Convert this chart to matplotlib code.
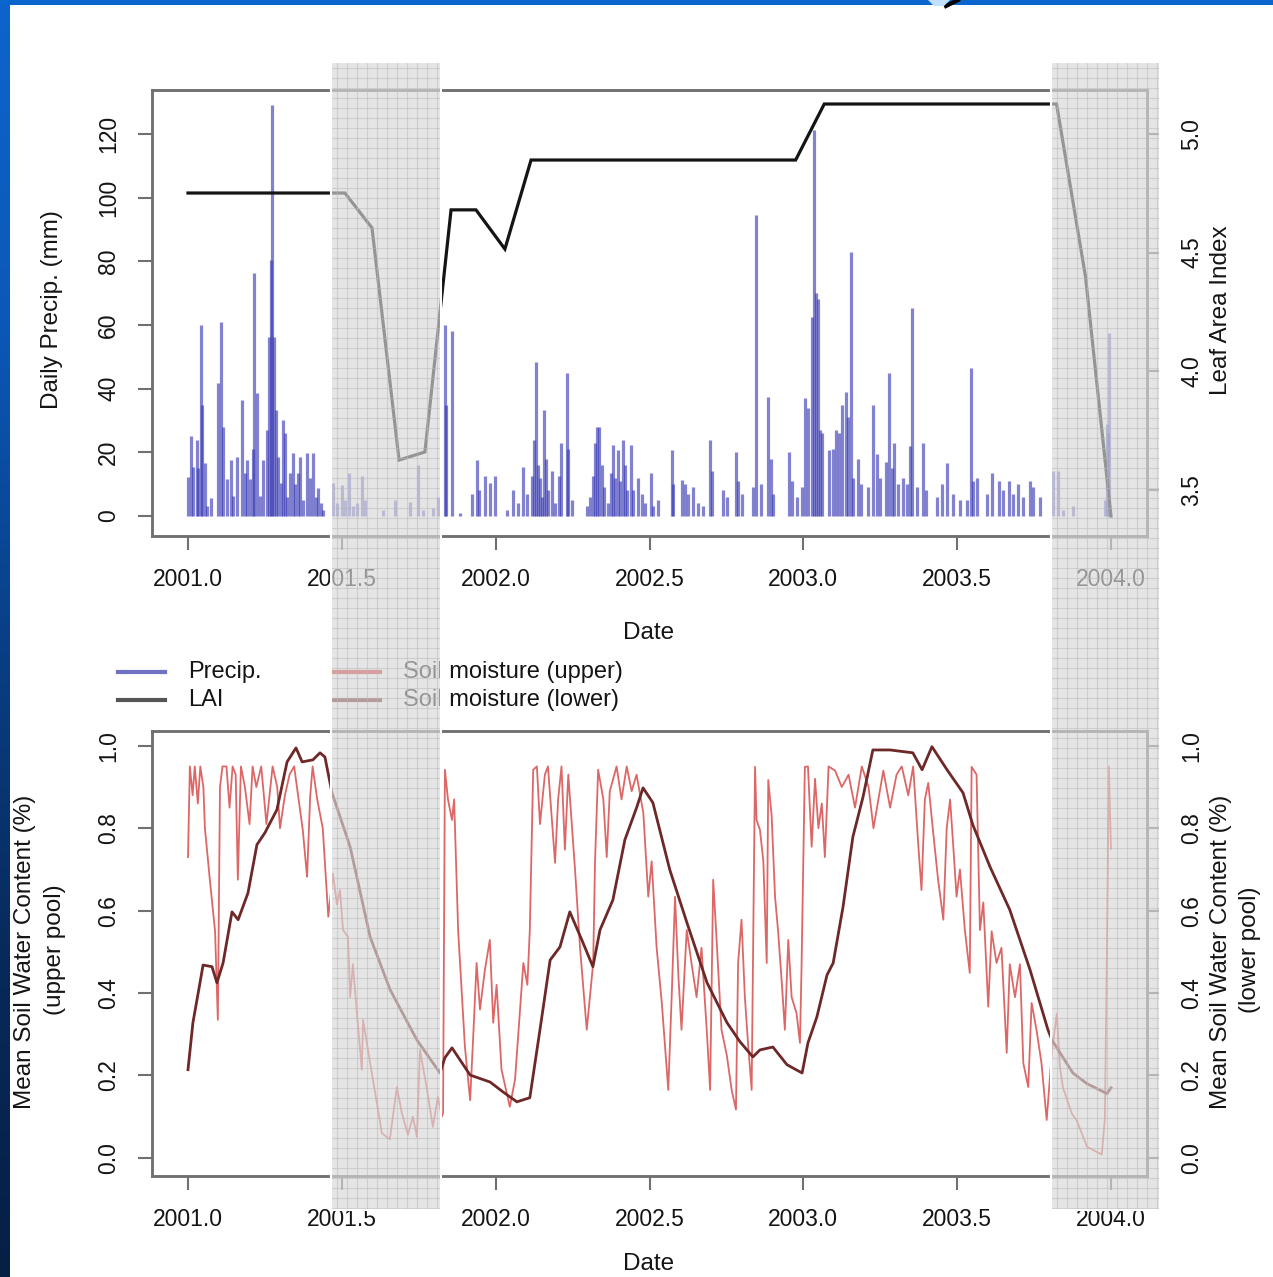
import numpy as np
import matplotlib
matplotlib.use("Agg")
import matplotlib.pyplot as plt
from matplotlib.patches import Rectangle, Polygon
from matplotlib.lines import Line2D
from matplotlib.colors import LinearSegmentedColormap

plt.rcParams['font.family'] = ['Liberation Sans', 'DejaVu Sans']

# ---------------- data ----------------
precip_year = [2001.000, 2001.009, 2001.016, 2001.028, 2001.034, 2001.042, 2001.047, 2001.055, 2001.063, 2001.075,
               2001.099, 2001.106, 2001.115, 2001.126, 2001.140, 2001.147, 2001.160, 2001.175, 2001.185, 2001.193,
               2001.202, 2001.212, 2001.216, 2001.223, 2001.234, 2001.243, 2001.256, 2001.263, 2001.269, 2001.274,
               2001.280, 2001.286, 2001.294, 2001.301, 2001.308, 2001.315, 2001.323, 2001.332, 2001.340, 2001.348,
               2001.359, 2001.364, 2001.373, 2001.388, 2001.397, 2001.407, 2001.416, 2001.424, 2001.431, 2001.440,
               2001.472, 2001.483, 2001.500, 2001.510, 2001.524, 2001.537, 2001.548, 2001.567, 2001.575, 2001.635,
               2001.673, 2001.722, 2001.749, 2001.765, 2001.796, 2001.814,
               2001.835, 2001.840, 2001.857, 2001.884, 2001.922, 2001.940, 2001.947, 2001.965, 2001.982, 2001.998,
               2002.036, 2002.057, 2002.074, 2002.090, 2002.103, 2002.117, 2002.126, 2002.131, 2002.139, 2002.144,
               2002.150, 2002.156, 2002.164, 2002.171, 2002.182, 2002.193, 2002.206, 2002.211, 2002.231, 2002.236,
               2002.247, 2002.296, 2002.307, 2002.315, 2002.323, 2002.330, 2002.337, 2002.345, 2002.352, 2002.366,
               2002.374, 2002.380, 2002.388, 2002.397, 2002.404, 2002.413, 2002.420, 2002.426, 2002.439, 2002.447,
               2002.464, 2002.475, 2002.485, 2002.505, 2002.512, 2002.529, 2002.572, 2002.577, 2002.605, 2002.615,
               2002.626, 2002.642, 2002.659, 2002.675, 2002.697, 2002.702, 2002.740, 2002.751, 2002.780, 2002.789,
               2002.800, 2002.837, 2002.846, 2002.862, 2002.886, 2002.895, 2002.902, 2002.954, 2002.962, 2002.978,
               2002.995, 2003.005, 2003.016, 2003.027, 2003.035, 2003.041, 2003.049, 2003.054, 2003.060, 2003.082,
               2003.095, 2003.106, 2003.117, 2003.125, 2003.139, 2003.146, 2003.155, 2003.162, 2003.179, 2003.189,
               2003.211, 2003.227, 2003.238, 2003.249, 2003.268, 2003.278, 2003.287, 2003.296, 2003.309, 2003.323,
               2003.336, 2003.347, 2003.354, 2003.368, 2003.388, 2003.400, 2003.434, 2003.450, 2003.466, 2003.488,
               2003.509, 2003.531, 2003.545, 2003.553, 2003.563, 2003.596, 2003.612, 2003.637, 2003.650, 2003.669,
               2003.682, 2003.699, 2003.715, 2003.737, 2003.748, 2003.769, 2003.812, 2003.829, 2003.845, 2003.877,
               2003.980, 2003.986, 2003.991, 2003.995]
precip_mm = [12.3, 25, 15.5, 24, 15, 60, 35, 16.6, 3, 5.6,
             41.7, 61, 28, 11.7, 17.6, 6.4, 18.6, 36.4, 13.6, 17.6,
             11.6, 21, 76.2, 38.6, 6.4, 17.6, 27, 56.3, 80.4, 129.1,
             56.3, 33.3, 18.6, 10.5, 30.2, 26, 6, 13.6, 19.7, 10,
             13.6, 18.6, 5, 19.7, 12, 19.7, 6, 8.7, 4, 2,
             10.4, 4, 9.7, 5, 13.4, 3, 4, 12.4, 5, 2,
             5, 4.5, 16, 2, 2.5, 6,
             60, 35, 58, 1, 7, 17.6, 8, 12.4, 10.4, 12.4,
             2, 8.2, 4, 15.5, 7, 12.4, 23.9, 48.5, 16, 12,
             6, 33.3, 18, 8, 14, 4, 12.4, 22.8, 44.8, 21,
             5, 3, 6, 12.4, 22.8, 28, 28, 16, 9, 4,
             13.4, 22.3, 12, 20.7, 11, 23.9, 16, 8, 22.3, 8,
             11.8, 7, 4, 13.4, 3, 5, 20.7, 10, 11.3, 10,
             7, 9, 4, 3, 23.9, 14, 8, 6, 20.2, 11,
             7, 9, 94.6, 10, 37.5, 18, 7, 20.2, 11, 6,
             9, 37, 34, 62.6, 121.3, 70, 68, 27, 26, 20.7,
             21, 27, 26, 35, 39, 31, 83, 12, 18, 10,
             9, 35, 19.5, 12, 17, 44.8, 15, 22.8, 10, 12,
             10, 22, 65.2, 9, 22.8, 8, 6, 10, 16.6, 7,
             5, 5, 46.4, 11, 12, 7, 13.4, 11, 8, 11,
             7, 10, 6, 11, 9, 6, 14, 14, 2, 3,
             5, 29, 26, 57.4]

lai_year = [2001.000, 2001.510, 2001.598, 2001.686, 2001.770, 2001.855, 2001.936, 2002.030, 2002.115,
            2002.975, 2003.068, 2003.823, 2003.917, 2004.000]
lai_value = [4.751, 4.751, 4.604, 3.626, 3.660, 4.680, 4.680, 4.515, 4.890,
             4.890, 5.126, 5.126, 4.400, 3.390]

upper_year = [2001.000, 2001.006, 2001.015, 2001.022, 2001.032, 2001.040, 2001.050, 2001.055, 2001.071, 2001.088,
              2001.097, 2001.104, 2001.112, 2001.125, 2001.135, 2001.145, 2001.155, 2001.162, 2001.172, 2001.185,
              2001.200, 2001.210, 2001.222, 2001.238, 2001.255, 2001.275, 2001.290, 2001.299, 2001.315, 2001.330,
              2001.345, 2001.373, 2001.387, 2001.397, 2001.405, 2001.420, 2001.438, 2001.452, 2001.456, 2001.471,
              2001.484, 2001.494, 2001.504, 2001.520, 2001.527, 2001.536, 2001.549, 2001.565, 2001.569, 2001.592,
              2001.614, 2001.630, 2001.656, 2001.679, 2001.695, 2001.715, 2001.731, 2001.744, 2001.754, 2001.777,
              2001.796, 2001.812, 2001.825, 2001.829, 2001.835, 2001.845, 2001.858, 2001.865, 2001.878, 2001.900,
              2001.917, 2001.927, 2001.938, 2001.949, 2001.965, 2001.981, 2001.992, 2002.003, 2002.019, 2002.046,
              2002.063, 2002.090, 2002.103, 2002.111, 2002.122, 2002.134, 2002.144, 2002.160, 2002.170, 2002.193,
              2002.203, 2002.214, 2002.225, 2002.236, 2002.258, 2002.274, 2002.296, 2002.317, 2002.323, 2002.333,
              2002.350, 2002.361, 2002.371, 2002.393, 2002.409, 2002.426, 2002.442, 2002.458, 2002.480, 2002.496,
              2002.507, 2002.523, 2002.540, 2002.561, 2002.572, 2002.583, 2002.594, 2002.604, 2002.621, 2002.637,
              2002.653, 2002.669, 2002.686, 2002.697, 2002.707, 2002.718, 2002.734, 2002.751, 2002.767, 2002.781,
              2002.788, 2002.799, 2002.810, 2002.821, 2002.832, 2002.843, 2002.848, 2002.859, 2002.870, 2002.881,
              2002.886, 2002.897, 2002.908, 2002.918, 2002.930, 2002.940, 2002.951, 2002.962, 2002.978, 2002.989,
              2002.994, 2003.005, 2003.015, 2003.027, 2003.038, 2003.049, 2003.060, 2003.070, 2003.082, 2003.103,
              2003.125, 2003.147, 2003.168, 2003.190, 2003.212, 2003.228, 2003.244, 2003.260, 2003.282, 2003.303,
              2003.320, 2003.341, 2003.357, 2003.374, 2003.384, 2003.395, 2003.406, 2003.422, 2003.438, 2003.455,
              2003.466, 2003.477, 2003.487, 2003.498, 2003.509, 2003.525, 2003.541, 2003.547, 2003.563, 2003.574,
              2003.585, 2003.601, 2003.612, 2003.628, 2003.644, 2003.661, 2003.671, 2003.688, 2003.704, 2003.715,
              2003.731, 2003.742, 2003.758, 2003.774, 2003.791, 2003.808, 2003.824, 2003.834, 2003.844, 2003.873,
              2003.889, 2003.922, 2003.970, 2003.980, 2003.987, 2003.993, 2004.000]
upper_value = [0.73, 0.95, 0.88, 0.95, 0.86, 0.95, 0.90, 0.80, 0.675, 0.55,
               0.335, 0.90, 0.95, 0.95, 0.85, 0.95, 0.93, 0.675, 0.95, 0.90,
               0.81, 0.95, 0.90, 0.95, 0.81, 0.95, 0.90, 0.80, 0.88, 0.93,
               0.95, 0.796, 0.682, 0.876, 0.95, 0.87, 0.80, 0.634, 0.585, 0.69,
               0.615, 0.65, 0.553, 0.536, 0.39, 0.47, 0.351, 0.214, 0.335, 0.23,
               0.133, 0.06, 0.045, 0.172, 0.109, 0.056, 0.10, 0.051, 0.262, 0.165,
               0.075, 0.148, 0.10, 0.109, 0.942, 0.87, 0.82, 0.87, 0.553, 0.27,
               0.14, 0.294, 0.473, 0.36, 0.456, 0.529, 0.328, 0.42, 0.214, 0.124,
               0.19, 0.473, 0.42, 0.553, 0.942, 0.95, 0.81, 0.93, 0.95, 0.716,
               0.87, 0.95, 0.748, 0.93, 0.699, 0.512, 0.311, 0.473, 0.72, 0.942,
               0.87, 0.73, 0.89, 0.95, 0.87, 0.95, 0.89, 0.93, 0.837, 0.634,
               0.72, 0.512, 0.376, 0.165, 0.39, 0.634, 0.44, 0.311, 0.553, 0.47,
               0.39, 0.51, 0.311, 0.165, 0.675, 0.53, 0.311, 0.25, 0.165, 0.117,
               0.473, 0.578, 0.39, 0.27, 0.165, 0.949, 0.82, 0.796, 0.72, 0.473,
               0.917, 0.83, 0.634, 0.55, 0.425, 0.311, 0.529, 0.39, 0.351, 0.279,
               0.456, 0.949, 0.95, 0.755, 0.92, 0.80, 0.86, 0.73, 0.95, 0.94,
               0.90, 0.93, 0.85, 0.95, 0.90, 0.80, 0.87, 0.94, 0.85, 0.93,
               0.95, 0.88, 0.95, 0.755, 0.65, 0.87, 0.91, 0.79, 0.675, 0.578,
               0.80, 0.87, 0.76, 0.634, 0.70, 0.553, 0.449, 0.949, 0.93, 0.553,
               0.62, 0.367, 0.55, 0.473, 0.51, 0.255, 0.47, 0.39, 0.47, 0.23,
               0.172, 0.376, 0.31, 0.23, 0.092, 0.26, 0.35, 0.22, 0.17, 0.107,
               0.09, 0.027, 0.008, 0.094, 0.52, 0.95, 0.75]

lower_year = [2001.000, 2001.016, 2001.039, 2001.049, 2001.078, 2001.094, 2001.114, 2001.143, 2001.163, 2001.195,
              2001.224, 2001.250, 2001.289, 2001.322, 2001.351, 2001.371, 2001.406, 2001.429, 2001.445, 2001.468,
              2001.527, 2001.592, 2001.657, 2001.744, 2001.819, 2001.835, 2001.858, 2001.917, 2001.982, 2002.024,
              2002.069, 2002.111, 2002.144, 2002.177, 2002.209, 2002.241, 2002.280, 2002.316, 2002.339, 2002.381,
              2002.420, 2002.459, 2002.479, 2002.511, 2002.566, 2002.622, 2002.687, 2002.752, 2002.794, 2002.836,
              2002.859, 2002.901, 2002.947, 2002.996, 2003.015, 2003.044, 2003.077, 2003.097, 2003.129, 2003.161,
              2003.194, 2003.226, 2003.282, 2003.356, 2003.386, 2003.418, 2003.467, 2003.519, 2003.551, 2003.607,
              2003.671, 2003.737, 2003.795, 2003.808, 2003.876, 2003.922, 2003.987, 2004.000]
lower_value = [0.214, 0.328, 0.425, 0.468, 0.464, 0.425, 0.473, 0.597, 0.578, 0.643,
               0.76, 0.789, 0.845, 0.961, 0.995, 0.961, 0.966, 0.983, 0.973, 0.886,
               0.755, 0.536, 0.408, 0.286, 0.206, 0.243, 0.267, 0.201, 0.184, 0.16,
               0.136, 0.146, 0.311, 0.48, 0.512, 0.597, 0.529, 0.464, 0.553, 0.626,
               0.772, 0.852, 0.898, 0.862, 0.699, 0.57, 0.425, 0.328, 0.282, 0.245,
               0.262, 0.269, 0.226, 0.206, 0.279, 0.342, 0.444, 0.473, 0.609, 0.779,
               0.876, 0.99, 0.99, 0.983, 0.942, 0.998, 0.942, 0.886, 0.808, 0.706,
               0.602, 0.456, 0.311, 0.286, 0.206, 0.18, 0.156, 0.17]

year_ticks = [2001.0, 2001.5, 2002.0, 2002.5, 2003.0, 2003.5, 2004.0]
precip_ticks = [0, 20, 40, 60, 80, 100, 120]
lai_ticks = [3.5, 4.0, 4.5, 5.0]
soil_ticks = [0.0, 0.2, 0.4, 0.6, 0.8, 1.0]

# ---------------- figure ----------------
W, H = 1273, 1277
fig = plt.figure(figsize=(W / 100, H / 100), dpi=100)
fig.patch.set_facecolor('white')

def fx(px):
    return px / W

def fy(py):
    return 1 - py / H

TXT = '#141414'
SPINE = '#707070'
TICKFS = 16.5
LABFS = 17.5

# slide decoration: blue borders
fig.patches.append(Rectangle((0, fy(5)), 1, 5 / H, transform=fig.transFigure,
                             facecolor='#0a66cc', edgecolor='none', zorder=1))
bg = fig.add_axes([0, 0, fx(10), 1])
cm = LinearSegmentedColormap.from_list('slide', ['#0e64cc', '#0c58b8', '#0a3f86', '#082a5a', '#061f45'])
bg.imshow(np.linspace(0, 1, 256).reshape(-1, 1), aspect='auto', cmap=cm, extent=[0, 1, 0, 1])
bg.set_axis_off()
fig.patches.append(Polygon([[fx(928), fy(0)], [fx(950), fy(0)], [fx(944), fy(6)], [fx(934), fy(6)]],
                           closed=True, transform=fig.transFigure, facecolor='#bfe0ff',
                           edgecolor='none', zorder=2))
fig.lines.append(Line2D([fx(946), fx(958)], [fy(6), fy(0)], transform=fig.transFigure,
                        color='black', lw=3, zorder=2))

def style_axes(ax):
    for s in ax.spines.values():
        s.set_color(SPINE)
        s.set_linewidth(1.8)
    ax.tick_params(direction='out', length=10, width=1.5, color=SPINE,
                   labelsize=TICKFS, labelcolor=TXT)

xlim = (2000.883, 2004.117)

# ---------------- top panel ----------------
ax1 = fig.add_axes([fx(152), fy(536), fx(1147) - fx(152), fy(90) - fy(536)])
ax1.set_xlim(*xlim)
ax1.set_ylim(-6.3, 133.8)
ax1.vlines(precip_year, 0, precip_mm, colors='#3636b4', linewidth=2.3, alpha=0.62)
ax1.set_xticks(year_ticks)
ax1.set_xticklabels([f'{v:.1f}' for v in year_ticks])
ax1.set_yticks(precip_ticks)
ax1.set_yticklabels([str(v) for v in precip_ticks])
style_axes(ax1)
ax1.tick_params(axis='x', pad=13)
ax1.tick_params(axis='y', pad=13, labelrotation=90)
for t in ax1.get_yticklabels():
    t.set_va('center')

ax1b = ax1.twinx()
ax1b.set_ylim(3.306, 5.185)
ax1b.plot(lai_year, lai_value, color='#141414', lw=2.3, solid_joinstyle='miter')
ax1b.set_yticks(lai_ticks)
ax1b.set_yticklabels([f'{v:.1f}' for v in lai_ticks])
style_axes(ax1b)
ax1b.tick_params(axis='y', pad=14, labelrotation=90)
for t in ax1b.get_yticklabels():
    t.set_va('center')

# ---------------- bottom panel ----------------
ax2 = fig.add_axes([fx(152), fy(1176), fx(1147) - fx(152), fy(731) - fy(1176)])
ax2.set_xlim(*xlim)
ax2.set_ylim(-0.044, 1.036)
ax2.plot(upper_year, upper_value, color='#d23434', lw=1.3, alpha=0.75)
ax2.set_xticks(year_ticks)
ax2.set_xticklabels([f'{v:.1f}' for v in year_ticks])
ax2.set_yticks(soil_ticks)
ax2.set_yticklabels([f'{v:.1f}' for v in soil_ticks])
style_axes(ax2)
ax2.tick_params(axis='x', pad=13)
ax2.tick_params(axis='y', pad=13, labelrotation=90)
for t in ax2.get_yticklabels():
    t.set_va('center')

ax2b = ax2.twinx()
ax2b.set_ylim(-0.044, 1.036)
ax2b.plot(lower_year, lower_value, color='#6e2828', lw=2.0)
ax2b.set_yticks(soil_ticks)
ax2b.set_yticklabels([f'{v:.1f}' for v in soil_ticks])
style_axes(ax2b)
ax2b.tick_params(axis='y', pad=14, labelrotation=90)
for t in ax2b.get_yticklabels():
    t.set_va('center')

# ---------------- labels ----------------
fig.text(fx(52), fy(310), 'Daily Precip. (mm)', rotation=90, ha='center', va='center',
         fontsize=LABFS, color=TXT)
fig.text(fx(1221), fy(310), 'Leaf Area Index', rotation=90, ha='center', va='center',
         fontsize=LABFS, color=TXT)
fig.text(fx(649), fy(633), 'Date', ha='center', va='center', fontsize=LABFS, color=TXT)
fig.text(fx(649), fy(1264), 'Date', ha='center', va='center', fontsize=LABFS, color=TXT)
fig.text(fx(25), fy(952), 'Mean Soil Water Content (%)', rotation=90, ha='center', va='center',
         fontsize=LABFS, color=TXT)
fig.text(fx(55), fy(950), '(upper pool)', rotation=90, ha='center', va='center',
         fontsize=LABFS, color=TXT)
fig.text(fx(1221), fy(952), 'Mean Soil Water Content (%)', rotation=90, ha='center', va='center',
         fontsize=LABFS, color=TXT)
fig.text(fx(1250), fy(950), '(lower pool)', rotation=90, ha='center', va='center',
         fontsize=LABFS, color=TXT)

# legend
leg_items = [(118, 165, 672, '#7070c4', 'Precip.', 188),
             (118, 165, 700, '#555555', 'LAI', 188),
             (333, 380, 672, '#d23434', 'Soil moisture (upper)', 403),
             (333, 380, 700, '#6e2828', 'Soil moisture (lower)', 403)]
for x0, x1, y, c, lab, tx in leg_items:
    fig.lines.append(Line2D([fx(x0), fx(x1)], [fy(y), fy(y)], transform=fig.transFigure,
                            color=c, lw=3, zorder=3))
    fig.text(fx(tx), fy(y), lab, ha='left', va='center', fontsize=17, color=TXT)

# ---------------- grey overlay bands ----------------
for bx0, bx1 in [(331, 441), (1051, 1160)]:
    y0, y1 = 62, 1210
    fig.patches.append(Rectangle((fx(bx0), fy(y1)), fx(bx1) - fx(bx0), fy(y0) - fy(y1),
                                 transform=fig.transFigure, facecolor='#d8d8d8',
                                 edgecolor='none', alpha=0.66, zorder=10))
    for gx in range(bx0 + 6, bx1, 10):
        fig.lines.append(Line2D([fx(gx), fx(gx)], [fy(y0), fy(y1)], transform=fig.transFigure,
                                color='#b8b8b8', lw=0.8, alpha=0.5, zorder=11))
    for gy in range(y0 + 6, y1, 10):
        fig.lines.append(Line2D([fx(bx0), fx(bx1)], [fy(gy), fy(gy)], transform=fig.transFigure,
                                color='#b8b8b8', lw=0.8, alpha=0.5, zorder=11))
    fig.patches.append(Rectangle((fx(bx0), fy(y1)), fx(bx1) - fx(bx0), fy(y0) - fy(y1),
                                 transform=fig.transFigure, facecolor='none',
                                 edgecolor='white', lw=1.5, zorder=12))

fig.savefig('out.png', dpi=100)
